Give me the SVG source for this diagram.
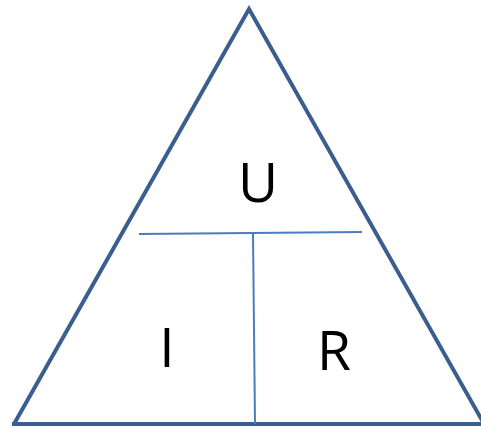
<svg xmlns="http://www.w3.org/2000/svg" width="481" height="428" viewBox="0 0 481 428">
<style>
.tri{fill:none;stroke:#3a5f8f;stroke-width:4;stroke-linejoin:miter}
.div{stroke:#4a7ebb;stroke-width:2;fill:none}
.lbl{font-family:"Open Sans","Liberation Sans",sans-serif;font-size:55px;fill:#000;text-anchor:middle}
</style>
<rect width="481" height="428" fill="#fff"/>
<g id="triangle"><path class="tri" d="M14,424 L249,9 L483,422"/><path class="tri" d="M12,424 H481"/></g>
<g id="connectors">
<line class="div" x1="139" y1="234" x2="362" y2="232"/>
<line class="div" x1="253" y1="234" x2="255" y2="424"/>
</g>
<g id="U"><text class="lbl" x="258" y="202">U</text></g>
<g id="I"><text class="lbl" x="167" y="367">I</text></g>
<g id="R"><text class="lbl" x="334" y="370">R</text></g>
</svg>
